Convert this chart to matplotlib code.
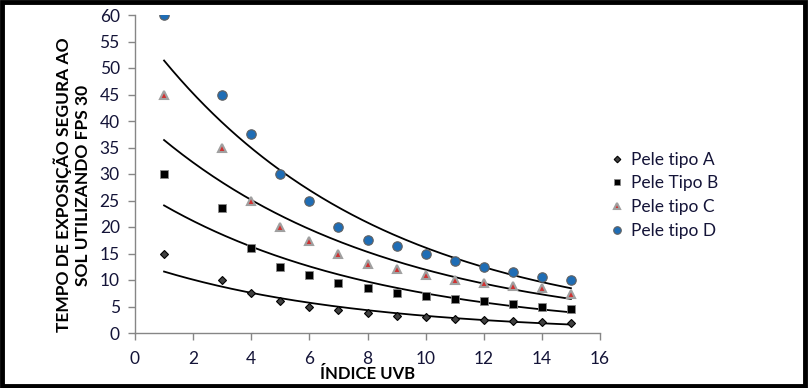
import numpy as np
import matplotlib
matplotlib.use("Agg")
import matplotlib.pyplot as plt
from matplotlib.patches import Rectangle

plt.rcParams['font.family'] = ['Lato', 'DejaVu Sans']

uv_index = [1, 3, 4, 5, 6, 7, 8, 9, 10, 11, 12, 13, 14, 15]
pele_a = [15, 10, 7.5, 6, 5, 4.3, 3.75, 3.3, 3, 2.7, 2.5, 2.3, 2.1, 1.8]
pele_b = [30, 23.5, 16, 12.4, 10.9, 9.4, 8.5, 7.5, 7, 6.5, 6, 5.4, 4.9, 4.5]
pele_c = [45, 35, 25, 20, 17.4, 15, 13, 12, 11, 10, 9.4, 8.9, 8.4, 7.4]
pele_d = [60, 45, 37.5, 30, 25, 20, 17.5, 16.5, 15, 13.5, 12.5, 11.5, 10.5, 10]
labels = ["Pele tipo A", "Pele Tipo B", "Pele tipo C", "Pele tipo D"]

W, H = 808, 388
fig = plt.figure(figsize=(W / 100, H / 100), dpi=100)
ax = fig.add_axes([135 / W, 1 - 333 / H, (600 - 135) / W, (333 - 15) / H])

tick_color = '#141438'
styles = [
    dict(marker='D', ms=4.2, mfc='#404040', mec='#000000', mew=0.8),
    dict(marker='s', ms=5.2, mfc='#000000', mec='#8a8a8a', mew=0.6),
    dict(marker='^', ms=6.2, mfc='#d03030', mec='#a0a0a0', mew=1.5),
    dict(marker='o', ms=6.8, mfc='#1f6db5', mec='#606060', mew=0.8),
]
series = [pele_a, pele_b, pele_c, pele_d]
x = np.array(uv_index, dtype=float)
xs = np.linspace(min(uv_index), max(uv_index), 200)
for vals, st, lab in zip(series, styles, labels):
    ax.plot(uv_index, vals, linestyle='none', label=lab, zorder=3, **st)
    b, a = np.polyfit(x, np.log(vals), 1)
    ax.plot(xs, np.exp(a) * np.exp(b * xs), color='black', lw=1.3, zorder=2)

ax.set_xlim(0, 16)
ax.set_ylim(0, 60)
ax.set_xticks(range(0, 17, 2))
ax.set_yticks(range(0, 61, 5))
for s in ['top', 'right']:
    ax.spines[s].set_visible(False)
for s in ['left', 'bottom']:
    ax.spines[s].set_color('#868686')
    ax.spines[s].set_linewidth(1.0)
ax.tick_params(direction='out', length=5, width=1.0, color='#868686',
               labelcolor=tick_color, labelsize=12.5, pad=6)
ax.tick_params(axis='x', pad=8)

fig.text(368 / W, 1 - 374 / H, "ÍNDICE UVB", ha='center', va='center',
         fontsize=12, fontweight='bold', color='black')
fig.text(72 / W, 1 - 185 / H, "TEMPO DE EXPOSIÇÃO SEGURA AO\nSOL UTILIZANDO FPS 30",
         ha='center', va='center', rotation=90, fontsize=12.5,
         fontweight='bold', color='black', linespacing=1.25, multialignment='center')

leg = ax.legend(loc='upper left', bbox_to_anchor=(594 / W, 1 - 136 / H),
                bbox_transform=fig.transFigure, frameon=False, fontsize=12.5,
                handlelength=0.8, handletextpad=0.45, labelspacing=0.45,
                markerscale=0.8)
for t in leg.get_texts():
    t.set_color(tick_color)

fig.patches.append(Rectangle((1.5 / W, 2.5 / H), (W - 5) / W, (H - 4.5) / H,
                             transform=fig.transFigure, fill=False,
                             edgecolor='black', linewidth=3.5))

fig.savefig('out.png', dpi=100)
